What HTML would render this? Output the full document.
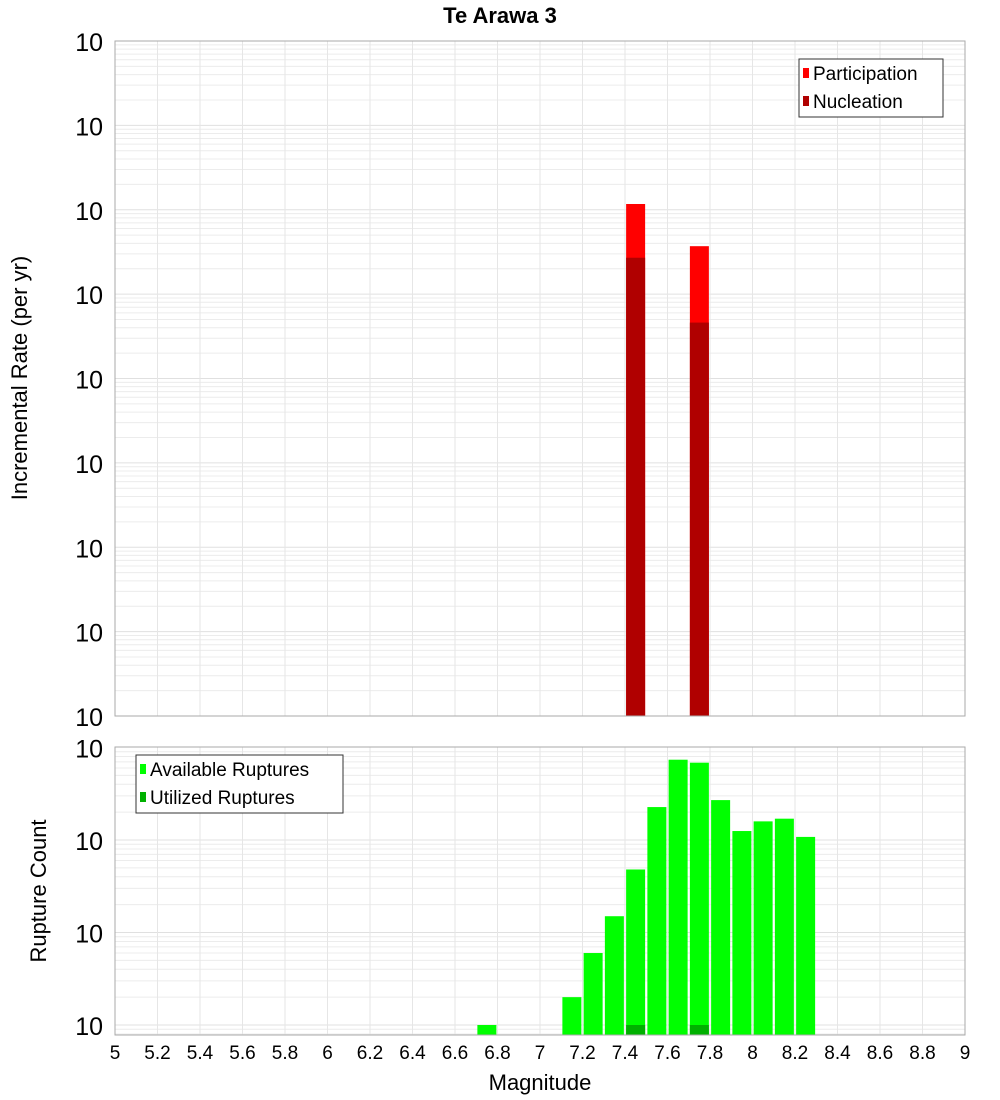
<!DOCTYPE html>
<html><head><meta charset="utf-8"><style>
html,body{margin:0;padding:0;background:#fff;}
svg{display:block;font-family:"Liberation Sans","DejaVu Sans",sans-serif;}
</style></head><body>
<svg id="chart" width="1000" height="1100" viewBox="0 0 1000 1100" xmlns="http://www.w3.org/2000/svg">
<text x="500" y="23" text-anchor="middle" font-size="22" font-weight="bold">Te Arawa 3</text>
<g id="top"></g><g id="bot"></g><g id="xticks"></g>
<text x="540" y="1090" text-anchor="middle" font-size="22">Magnitude</text>
<text transform="translate(27,378) rotate(-90)" text-anchor="middle" font-size="22">Incremental Rate (per yr)</text>
<text transform="translate(46,891) rotate(-90)" text-anchor="middle" font-size="22">Rupture Count</text>
</svg>
<script>
const xTicks=[5,5.2,5.4,5.6,5.8,6,6.2,6.4,6.6,6.8,7,7.2,7.4,7.6,7.8,8,8.2,8.4,8.6,8.8,9];
const rateMags=[7.45,7.75];
const participation=[1.17e-4,3.7e-5];
const nucleation=[2.7e-5,4.6e-6];
const countMags=[6.75,7.15,7.25,7.35,7.45,7.55,7.65,7.75,7.85,7.95,8.05,8.15,8.25];
const available=[1,2,6,15,48,227,738,685,270,125,159,170,108];
const utilizedMags=[7.45,7.75];
const utilized=[1,1];
const topExps=[-2,-3,-4,-5,-6,-7,-8,-9,-10];
const botExps=[3,2,1,0];

const NS='http://www.w3.org/2000/svg';
const L=115,R=965;
const x=m=>L+(m-5)*(R-L)/4;
const T={top:41,bot:716,y:v=>41+(-2-Math.log10(v))*84.375,minE:-10,maxE:-2};
const B={top:747,bot:1035,y:v=>747.5+(3-Math.log10(v))*92.5,minE:-1,maxE:3};
function el(p,tag,a,txt){const e=document.createElementNS(NS,tag);for(const k in a)e.setAttribute(k,a[k]);if(txt!==undefined)e.textContent=txt;p.appendChild(e);return e;}
function grid(g,P){
  for(let e=P.minE;e<P.maxE;e++)for(let k=1;k<10;k++){const yy=P.y(k*Math.pow(10,e));if(yy<P.top||yy>P.bot)continue;
    const ln=el(g,'line',{x1:L,x2:R,y1:yy,y2:yy,stroke:k==1?'#e0e0e0':'#ececec','stroke-width':1});
    
    }
  xTicks.forEach(m=>{const ln=el(g,'line',{x1:x(m),x2:x(m),y1:P.top,y2:P.bot,stroke:'#e6e6e6','stroke-width':1});
    
    });
}
function frame(g,P){const r=el(g,'rect',{x:L,y:P.top,width:R-L,height:P.bot-P.top,fill:'none',stroke:'#aaa','stroke-width':1});
  
  }
function bar(g,m,v,P,col,name){const yy=P.y(v);const w=19;
  const r=el(g,'rect',{x:x(m)-w/2,y:yy,width:w,height:P.bot-yy,fill:col});
  
  }
function ylab(g,P,e,yy){const t=el(g,'text',{x:103,y:yy+10,'text-anchor':'end','font-size':25});
  
  
  t.textContent='10';const s=el(g,'tspan',{x:104,y:yy-6,'font-size':17,'text-anchor':'start'},String(e));}
function legend(g,bx,by,w,items){const r=el(g,'rect',{x:bx,y:by,width:w,height:58,fill:'#fff',stroke:'#333','stroke-width':1});
  
  
  items.forEach((it,i)=>{const yy=by+14+i*28;el(g,'rect',{x:bx+4,y:yy-5,width:6,height:10,fill:it[1]});
    const t=el(g,'text',{x:bx+14,y:yy+7,'font-size':19},it[0]);
    
    });}

const gt=document.getElementById('top');
grid(gt,T);
rateMags.forEach((m,i)=>bar(gt,m,participation[i],T,'#ff0000','participation-bar'));
rateMags.forEach((m,i)=>bar(gt,m,nucleation[i],T,'#b00000','nucleation-bar'));
frame(gt,T);
topExps.forEach(e=>ylab(gt,T,e,T.y(Math.pow(10,e))));
legend(gt,799,59,144,[['Participation','#ff0000'],['Nucleation','#b00000']]);

const gb=document.getElementById('bot');
grid(gb,B);
countMags.forEach((m,i)=>bar(gb,m,available[i],B,'#00ff00','available-bar'));
utilizedMags.forEach((m,i)=>bar(gb,m,utilized[i],B,'#00b000','utilized-bar'));
frame(gb,B);
botExps.forEach(e=>ylab(gb,B,e,B.y(Math.pow(10,e))));
legend(gb,136,755,207,[['Available Ruptures','#00ff00'],['Utilized Ruptures','#00b000']]);

const gx=document.getElementById('xticks');
xTicks.forEach(m=>{const t=el(gx,'text',{x:x(m),y:1059,'text-anchor':'middle','font-size':19},String(m));
  
  });
</script>
</body></html>
